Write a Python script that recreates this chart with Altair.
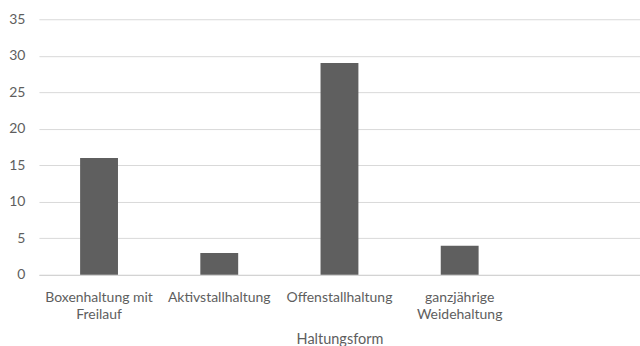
import altair as alt
import pandas as pd

# Haltungsform counts
categories = ["Boxenhaltung mit Freilauf", "Aktivstallhaltung", "Offenstallhaltung", "ganzjährige Weidehaltung"]
counts = [16, 3, 29, 4]
# axis label line breaks
label_lines = {
    "Boxenhaltung mit Freilauf": ["Boxenhaltung mit", "Freilauf"],
    "ganzjährige Weidehaltung": ["ganzjährige", "Weidehaltung"],
}
y_ticks = [0, 5, 10, 15, 20, 25, 30, 35]

df = pd.DataFrame({"Haltungsform": categories, "Anzahl": counts})

# one extra empty slot on the right of the category axis
domain = categories + [""]

expr_parts = []
for name, lines in label_lines.items():
    arr = "[" + ",".join("'" + l + "'" for l in lines) + "]"
    expr_parts.append(f"datum.label == '{name}' ? {arr} : ")
label_expr = "".join(expr_parts) + "datum.label"

FONT = "Lato"
TXT = "#5e5e5e"

chart = (
    alt.Chart(df)
    .mark_bar(color="#5f5f5f")
    .encode(
        x=alt.X(
            "Haltungsform:N",
            scale=alt.Scale(domain=domain, paddingInner=0.685, paddingOuter=0.3425),
            axis=alt.Axis(
                title="Haltungsform",
                labelAngle=0,
                ticks=False,
                labelExpr=label_expr,
                labelPadding=16,
                labelLineHeight=17,
                titlePadding=11,
                domainColor="#d0d0d0",
                domainWidth=1,
            ),
        ),
        y=alt.Y(
            "Anzahl:Q",
            scale=alt.Scale(domain=[0, 35], nice=False),
            axis=alt.Axis(
                title=None,
                values=y_ticks,
                ticks=False,
                domain=False,
                labelPadding=14,
                gridColor="#d9d9d9",
            ),
        ),
    )
    .properties(
        width=602,
        height=256,
        autosize=alt.AutoSizeParams(type="none"),
        padding={"left": 39, "top": 19, "right": 0, "bottom": 71},
        background="#ffffff",
    )
    .configure_axis(
        labelFont=FONT,
        titleFont=FONT,
        labelFontSize=14,
        titleFontSize=14.5,
        titleFontWeight="normal",
        labelColor=TXT,
        titleColor=TXT,
    )
    .configure_view(stroke=None)
)

chart.save("out.html", embed_options={"renderer": "svg", "actions": False})
